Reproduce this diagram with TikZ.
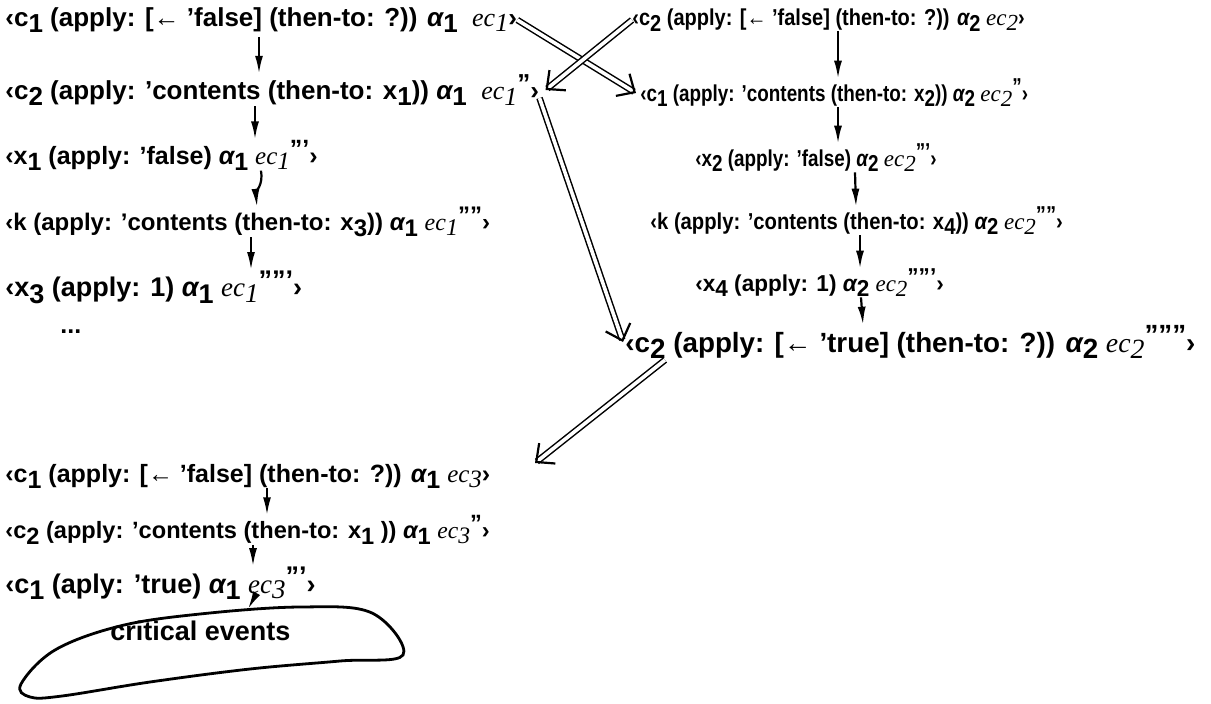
\documentclass[tikz,border=0pt]{standalone}
\usepackage{fontspec}
\setmainfont{Liberation Sans}
\newfontfamily\ecfont{Liberation Serif}
\usetikzlibrary{arrows.meta,calc}
\newcommand\lo[1]{\raisebox{-0.45ex}{#1}}
\newcommand\pr[1]{\raisebox{0.55ex}{\bfseries #1}}
\newcommand\ecx[2]{{\ecfont\itshape\mdseries ec\lo{#1}}\pr{#2}}
\newcommand\al[1]{{\itshape α}\lo{#1}}
\begin{document}
\begin{tikzpicture}[x=0.5pt,y=-0.5pt,
  ln/.style={anchor=west, inner sep=0pt},
  fs/.style={font=\bfseries\fontsize{#1}{#1}\selectfont},
  fx/.style 2 args={font=\bfseries\fontsize{#1}{#1}\selectfont\addfontfeature{FakeStretch=#2}},
  va/.style={-{Latex[length=9pt,width=4pt]}, line width=1.1pt},
  dbl/.style={double, double distance=1.8pt, line width=0.75pt, shorten >=1.2pt},
  tipw/.style={draw=white, line width=0.3pt, -{Straight Barb[length=7pt,width=13pt,line width=1.1pt,color=black]}},
  blobline/.style={line width=1.4pt}]
\useasboundingbox (0,0) rectangle (1211,703);
% left column
\node[ln,fs=13] (L1) at (5,20) {‹c\lo{1}\ (apply: [← 'false] (then-to: ?)) \al{1}\ \ \ecx{1}{}›};
\node[ln,fs=13] (L2) at (5,90) {‹c\lo{2} (apply: 'contents (then-to: x\lo{1})) \al{1}\ \ \ecx{1}{''}›};
\node[ln,fs=12.5] (L3) at (5,155) {‹x\lo{1} (apply: 'false) \al{1}\ \ecx{1}{'''}›};
\node[ln,fs=12] (L4) at (5,222) {‹k (apply: 'contents (then-to: x\lo{3})) \al{1}\ \ecx{1}{''''}›};
\node[ln,fs=13.5] (L5) at (5,287) {‹x\lo{3} (apply: 1) \al{1}\ \ecx{1}{'''''}›};
\node[ln,fs=12.5] (dots) at (60,332) {...};
\node[ln,fs=12.5] (L7) at (5,476) {‹c\lo{1}\ (apply: [← 'false] (then-to: ?)) \al{1}\ \ecx{3}{}›};
\node[ln,fs=11.8] (L8) at (5,530) {‹c\lo{2} (apply: 'contents (then-to: x\lo{1}\ )) \al{1}\ \ecx{3}{''}›};
\node[ln,fs=13.5] (L9) at (5,583) {‹c\lo{1}\ (aply: 'true) \al{1}\ \ecx{3}{'''}›};
% right column
\node[ln,fx={11.5}{0.87}] (R1) at (632,20) {‹c\lo{2} (apply: [← 'false] (then-to: ?)) \al{2}\ \ecx{2}{}›};
\node[ln,fx={11.5}{0.82}] (R2) at (640,93) {‹c\lo{1}\ (apply: 'contents (then-to: x\lo{2})) \al{2}\ \ecx{2}{''}›};
\node[ln,fx={11.5}{0.82}] (R3) at (695,158) {‹x\lo{2} (apply: 'false) \al{2}\ \ecx{2}{'''}›};
\node[ln,fx={11.5}{0.88}] (R4) at (650,221) {‹k (apply: 'contents (then-to: x\lo{4})) \al{2}\ \ecx{2}{''''}›};
\node[ln,fx={11.5}{0.98}] (R5) at (695,283) {‹x\lo{4} (apply: 1) \al{2}\ \ecx{2}{'''''}›};
\node[ln,fs=13.9] (R6) at (625,342) {‹c\lo{2} (apply: [← 'true] (then-to: ?)) \al{2}\ \ecx{2}{''''''}›};
% critical events blob
\node[ln,fs=13.5] (crit) at (110,631) {critical events};
\draw[blobline] plot[smooth cycle, tension=0.6] coordinates {(30,697) (21,684) (55,650) (120,626) (200,614) (300,607) (372,613) (403,655) (340,661) (250,669) (150,682) (62,696)};
\coordinate (blobtop) at (248,609);
% vertical arrows
\draw[va] ([xshift=127pt,yshift=-2pt]L1.south west) -- ([xshift=127pt]L2.north west);
\draw[va] ([xshift=125pt]L2.south west) -- ([xshift=125pt]L3.north west);
\draw[va] ([xshift=128pt]L3.south west) to[out=-80,in=95] ([xshift=126pt]L4.north west);
\draw[va] ([xshift=123pt]L4.south west) -- ([xshift=123pt]L5.north west);
\draw[va] ([xshift=131pt]L7.south west) -- ([xshift=131pt]L8.north west);
\draw[va] ([xshift=124pt]L8.south west) -- ([xshift=124pt]L9.north west);
\draw[va] ([xshift=124pt]L9.south west) -- (blobtop);
\draw[va] ([xshift=103pt]R1.south west) -- ([xshift=99pt]R2.north west);
\draw[va] ([xshift=99pt]R2.south west) -- ([xshift=71.5pt]R3.north west);
\draw[va] ([xshift=80pt]R3.south west) -- ([xshift=103pt]R4.north west);
\draw[va] ([xshift=105pt]R4.south west) -- ([xshift=82.5pt]R5.north west);
\draw[va] ([xshift=83pt]R5.south west) -- ([xshift=119pt]R6.north west);
% double arrows
\coordinate (d1s) at (L1.east);
\coordinate (d1e) at ([xshift=-2pt]R2.west);
\draw[dbl] (d1s) -- (d1e);
\draw[tipw] ($(d1s)!0.9!(d1e)$) -- (d1e);
\coordinate (d2s) at (R1.west);
\coordinate (d2e) at ([xshift=3pt]L2.east);
\draw[dbl] (d2s) -- (d2e);
\draw[tipw] ($(d2s)!0.9!(d2e)$) -- (d2e);
\coordinate (d3s) at ([yshift=-4pt]L2.east);
\coordinate (d3e) at ([xshift=-1pt]R6.west);
\draw[dbl] (d3s) -- (d3e);
\draw[tipw] ($(d3s)!0.95!(d3e)$) -- (d3e);
\coordinate (d4s) at ([yshift=-9pt,xshift=20pt]R6.west);
\coordinate (d4e) at (535,463);
\draw[dbl] (d4s) -- (d4e);
\draw[tipw] ($(d4s)!0.9!(d4e)$) -- (d4e);
\end{tikzpicture}
\end{document}
